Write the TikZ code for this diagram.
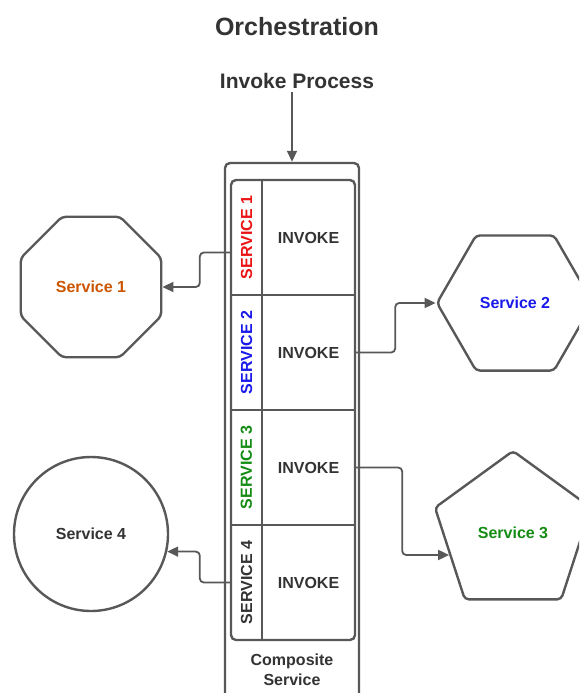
\documentclass[tikz,border=0pt]{standalone}
\usepackage{fontspec}
\setmainfont{Liberation Sans}
\usepackage{xcolor}
\definecolor{LineGrey}{RGB}{88,88,88}
\definecolor{TextGrey}{RGB}{51,51,51}
\definecolor{SvcOrange}{RGB}{204,85,0}
\definecolor{SvcRed}{RGB}{235,20,20}
\definecolor{SvcBlue}{RGB}{25,25,235}
\definecolor{SvcGreen}{RGB}{20,140,20}
\usetikzlibrary{arrows.meta,shapes.geometric}
\newcommand{\txtfont}{\bfseries\fontsize{16pt}{20pt}\selectfont}

\begin{document}
\begin{tikzpicture}[x=1pt, y=-1pt,
    box/.style={draw=LineGrey, line width=2.4pt, rounded corners=5pt, inner sep=0pt},
    divider/.style={draw=LineGrey, line width=2.4pt},
    lbl/.style={inner sep=0pt, minimum width=31pt, minimum height=115pt},
    inv/.style={inner sep=0pt, minimum width=93pt, minimum height=115pt, font=\txtfont, text=TextGrey},
    lanetext/.style={rotate=90, inner sep=0pt, font=\txtfont},
    svc/.style={draw=LineGrey, line width=2.4pt, rounded corners=4pt, inner sep=0pt, font=\txtfont},
    conn/.style={draw=LineGrey, line width=1.8pt, rounded corners=4pt, -{Triangle[length=11pt,width=10pt]}}
]
    \clip (0,0) rectangle (579,693);

    % Titles
    \node[font=\bfseries\fontsize{25pt}{30pt}\selectfont, text=TextGrey] (title) at (297,27) {Orchestration};
    \node[font=\bfseries\fontsize{21pt}{25pt}\selectfont, text=TextGrey] (invoke) at (297,81) {Invoke Process};

    % Composite service
    \node[box, minimum width=134pt, minimum height=580pt] (outer) at (292,453) {};
    \node[box, minimum width=124pt, minimum height=460pt] (lanes) at (293,410) {};
    \node[font=\txtfont, text=TextGrey, align=center] (comp) at (292,670) {Composite\\Service};

    % Lanes
    \node[lbl] (lab1) at (246.5,237.5) {};
    \node[lbl] (lab2) at (246.5,352.5) {};
    \node[lbl] (lab3) at (246.5,467.5) {};
    \node[lbl] (lab4) at (246.5,582.5) {};
    \node[lanetext, text=SvcRed] (lt1) at (lab1) {SERVICE 1};
    \node[lanetext, text=SvcBlue] (lt2) at (lab2) {SERVICE 2};
    \node[lanetext, text=SvcGreen] (lt3) at (lab3) {SERVICE 3};
    \node[lanetext, text=TextGrey] (lt4) at (lab4) {SERVICE 4};

    \node[inv] (inv1) at (308.5,237.5) {INVOKE};
    \node[inv] (inv2) at (308.5,352.5) {INVOKE};
    \node[inv] (inv3) at (308.5,467.5) {INVOKE};
    \node[inv] (inv4) at (308.5,582.5) {INVOKE};

    \draw[divider] (lab1.north east) -- (lab4.south east);
    \draw[divider] (lab1.south west) -- (inv1.south east);
    \draw[divider] (lab2.south west) -- (inv2.south east);
    \draw[divider] (lab3.south west) -- (inv3.south east);

    % Services
    \node[svc, regular polygon, regular polygon sides=8, minimum size=152pt, text=SvcOrange] (svc1) at (91,287) {Service 1};
    \node[svc, regular polygon, regular polygon sides=6, minimum size=156pt, text=SvcBlue] (svc2) at (515,303) {Service 2};
    \node[svc, regular polygon, regular polygon sides=5, minimum size=164pt, text=SvcGreen] (svc3) at (513,533) {Service 3};
    \node[svc, circle, minimum size=154pt, text=TextGrey] (svc4) at (91,534) {Service 4};

    % Connectors
    \draw[conn] (outer.north |- invoke.south) -- (outer.north);
    \draw[conn] ([yshift=-15pt]lab1.west) -- ++(-31,0) |- (svc1.east);
    \draw[conn] (inv2.east) -- ++(40,0) |- (svc2.west);
    \draw[conn] (inv3.east) -- ++(47,0) |- (svc3.199);
    \draw[conn] (lab4.west) -- ++(-31,0) |- (svc4.-13);
\end{tikzpicture}
\end{document}
